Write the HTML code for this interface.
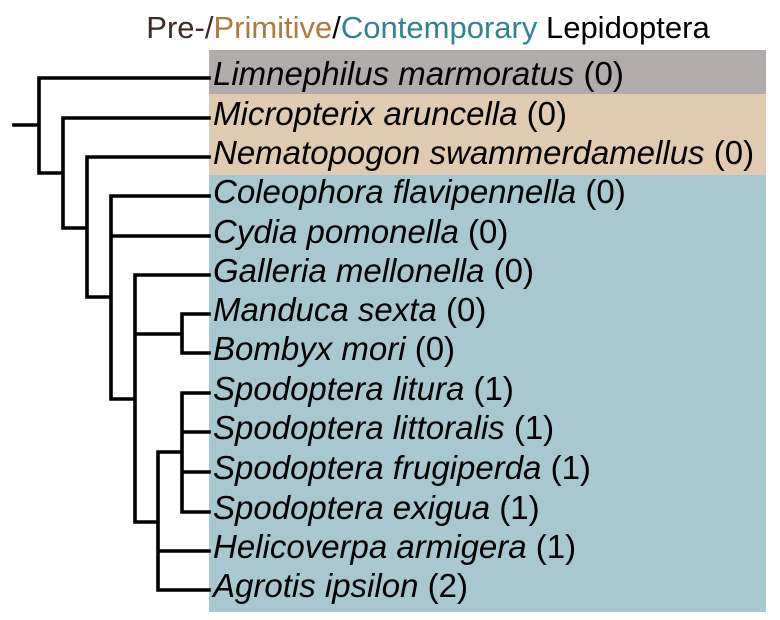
<!DOCTYPE html>
<html><head><meta charset="utf-8"><style>
html,body{margin:0;padding:0;background:#fff;width:780px;height:620px;overflow:hidden}
svg text{font-family:"Liberation Sans",Arial,sans-serif}
</style></head><body>
<svg width="780" height="620" viewBox="0 0 780 620" xmlns="http://www.w3.org/2000/svg">
<text x="428" y="38" font-size="31" text-anchor="middle"><tspan fill="#3e2a26">Pre-/</tspan><tspan fill="#b07a3e">Primitive</tspan><tspan fill="#000">/</tspan><tspan fill="#2f8394">Contemporary</tspan><tspan fill="#000"> Lepidoptera</tspan></text>
<rect x="209" y="50" width="557" height="44" fill="#b1abab"/>
<rect x="209" y="94" width="557" height="81" fill="#e1cbb0"/>
<rect x="209" y="175" width="557" height="437" fill="#a8c8d1"/>
<g stroke="#000" stroke-width="3.6" fill="none" stroke-linecap="square">
<path d="M14 125H39M39 78V173M39 78H209M39 173H63M63 118V228M63 118H209M63 228H87M87 157V297M87 157H209M87 297H111M111 196V399M111 196H209M111 236H209M111 399H135M135 275V522M135 275H209M135 334H182M182 314V353M182 314H209M182 353H209M135 522H158M158 452V590M158 452H182M182 393V512M182 393H209M182 432H209M182 472H209M182 512H209M158 551H209M158 590H209"/>
</g>
<g font-size="33" fill="#000">
<text x="213" y="85"><tspan font-style="italic">Limnephilus marmoratus</tspan> (0)</text>
<text x="213" y="125"><tspan font-style="italic">Micropterix aruncella</tspan> (0)</text>
<text x="213" y="164"><tspan font-style="italic">Nematopogon swammerdamellus</tspan> (0)</text>
<text x="213" y="203"><tspan font-style="italic">Coleophora flavipennella</tspan> (0)</text>
<text x="213" y="243"><tspan font-style="italic">Cydia pomonella</tspan> (0)</text>
<text x="213" y="282"><tspan font-style="italic">Galleria mellonella</tspan> (0)</text>
<text x="213" y="321"><tspan font-style="italic">Manduca sexta</tspan> (0)</text>
<text x="213" y="360"><tspan font-style="italic">Bombyx mori</tspan> (0)</text>
<text x="213" y="400"><tspan font-style="italic">Spodoptera litura</tspan> (1)</text>
<text x="213" y="439"><tspan font-style="italic">Spodoptera littoralis</tspan> (1)</text>
<text x="213" y="479"><tspan font-style="italic">Spodoptera frugiperda</tspan> (1)</text>
<text x="213" y="519"><tspan font-style="italic">Spodoptera exigua</tspan> (1)</text>
<text x="213" y="558"><tspan font-style="italic">Helicoverpa armigera</tspan> (1)</text>
<text x="213" y="597"><tspan font-style="italic">Agrotis ipsilon</tspan> (2)</text>
</g>
</svg>
</body></html>
